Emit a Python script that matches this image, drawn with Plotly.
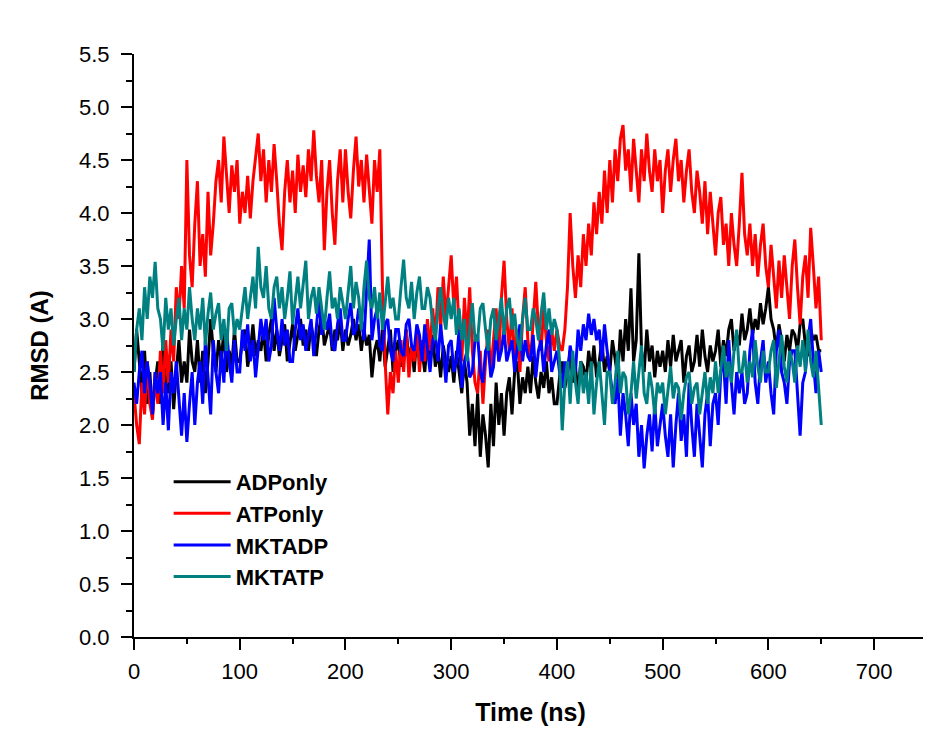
import plotly.graph_objects as go

# time axis, one sample every 2.5 ns from 0 to 650 ns
time_ns = [i * 2.5 for i in range(261)]

# RMSD values (A), 20 samples per 50 ns row
adp_only = [
    2.5, 2.9, 2.6, 2.3, 2.7, 2.2, 2.5, 2.1, 2.4, 2.6, 2.2, 2.8, 2.4, 2.3, 2.6, 2.15, 2.5, 2.8, 2.4, 2.6,
    2.4, 2.9, 2.6, 2.5, 2.8, 2.4, 2.7, 2.3, 2.6, 3.0, 2.7, 2.5, 2.8, 2.6, 2.9, 2.5, 2.7, 2.55, 2.9, 2.6,
    2.6, 2.8, 2.9, 2.55, 2.7, 2.95, 2.65, 2.8, 2.7, 2.9, 2.6, 2.85, 3.0, 2.7, 2.9, 2.65, 2.8, 2.95, 2.6, 2.8,
    2.95, 2.7, 2.85, 3.0, 2.75, 2.9, 2.7, 2.95, 2.8, 2.65, 2.9, 3.05, 2.75, 2.85, 2.95, 2.7, 2.9, 2.8, 3.0, 2.7,
    2.9, 2.75, 2.85, 3.0, 2.8, 2.95, 2.7, 2.9, 2.75, 2.85, 2.45, 2.7, 2.8, 2.6, 2.9, 2.55, 2.75, 2.9, 2.5, 2.7,
    2.8, 2.55, 2.7, 2.9, 2.6, 2.75, 2.5, 2.85, 2.65, 2.7, 2.5, 2.8, 2.6, 2.85, 2.55, 2.7, 2.45, 2.75, 2.6, 2.5,
    2.65, 2.4, 2.7, 2.5, 2.3, 2.6, 2.4, 1.9, 2.2, 1.8, 2.3, 1.7, 2.1, 1.9, 1.6, 2.2, 1.8, 2.4, 2.0, 2.3,
    1.9, 2.3, 2.45, 2.1, 2.5, 2.6, 2.2, 2.45, 2.3, 2.55, 2.3, 2.65, 2.4, 2.25, 2.5, 2.35, 2.6, 2.3, 2.45, 2.2,
    2.2, 2.45, 2.6, 2.35, 2.5, 2.7, 2.4, 2.55, 2.3, 2.6, 2.55, 2.4, 2.7, 2.5, 2.75, 2.45, 2.6, 2.8, 2.5, 2.65,
    2.5, 2.8, 2.6, 2.45, 2.9, 2.6, 3.0, 2.7, 3.29, 2.6, 2.8, 3.62, 2.7, 2.5, 2.9, 2.6, 2.75, 2.45, 2.7, 2.55,
    2.7, 2.5, 2.8, 2.55, 2.85, 2.6, 2.7, 2.8, 2.4, 2.65, 2.75, 2.5, 2.6, 2.85, 2.55, 2.9, 2.65, 2.5, 2.75, 2.6,
    2.7, 2.9, 2.55, 2.8, 2.65, 2.9, 3.0, 2.7, 2.85, 2.75, 3.05, 2.8, 2.9, 3.1, 2.85, 3.0, 2.9, 3.15, 2.95, 3.1,
    3.3, 3.0, 2.9, 2.7, 2.95, 2.8, 2.6, 2.85, 2.7, 2.9, 2.85, 2.7, 2.95, 3.0, 2.75, 2.65, 2.9, 2.8, 2.85, 2.7,
    2.7,
]

atp_only = [
    2.3, 2.0, 1.82, 2.4, 2.1, 2.6, 2.2, 2.05, 2.5, 2.2, 2.7, 2.3, 2.8, 2.4, 2.9, 2.6, 3.3, 3.0, 3.5, 3.1,
    4.5, 3.6, 3.3, 3.9, 4.3, 3.5, 3.8, 3.4, 4.2, 3.6, 3.9, 4.3, 4.5, 4.1, 4.72, 4.3, 4.0, 4.45, 4.2, 4.5,
    3.9, 4.2, 4.0, 4.35, 3.95, 4.3, 4.5, 4.75, 4.3, 4.6, 4.1, 4.5, 4.2, 4.65, 4.3, 3.9, 3.65, 4.2, 4.5, 4.1,
    4.4, 4.0, 4.55, 4.2, 4.45, 4.15, 4.6, 4.3, 4.78, 4.35, 4.1, 4.5, 3.65, 4.2, 4.5, 4.0, 3.7, 4.3, 4.6, 4.1,
    4.6, 4.2, 3.95, 4.4, 4.72, 4.25, 4.5, 4.1, 4.55, 4.2, 3.9, 4.5, 4.2, 4.6, 3.3, 2.6, 2.1, 2.5, 2.3, 2.7,
    2.4, 2.8, 2.5, 2.9, 2.45, 2.75, 2.6, 2.9, 2.5, 2.8, 2.6, 3.0, 2.7, 3.1, 2.8, 3.3, 2.9, 3.4, 3.0, 3.3,
    3.6, 3.1, 3.4, 2.9, 2.6, 3.2, 2.8, 3.3, 2.7, 2.4, 2.3, 2.7, 2.2, 2.6, 2.9, 2.5, 2.8, 3.1, 2.6, 3.2,
    3.55, 3.0, 2.7, 3.1, 2.6, 2.9, 2.5, 3.0, 3.3, 2.8, 2.6, 3.0, 3.35, 2.9, 2.7, 3.1, 2.8, 2.6, 2.9, 2.7,
    2.9, 2.75, 2.7, 2.9, 3.3, 4.0, 3.5, 3.2, 3.6, 3.3, 3.8, 3.5, 3.9, 3.6, 4.1, 3.8, 4.2, 3.9, 4.4, 4.0,
    4.5, 4.1, 4.6, 4.3, 4.7, 4.83, 4.4, 4.6, 4.2, 4.7, 4.4, 4.1, 4.6, 4.3, 4.75, 4.4, 4.2, 4.6, 4.3, 4.5,
    4.0, 4.4, 4.6, 4.2, 4.5, 4.7, 4.3, 4.5, 4.1, 4.4, 4.6, 4.2, 4.0, 4.4, 4.2, 3.9, 4.3, 3.8, 4.2, 3.9,
    3.6, 4.0, 4.15, 3.7, 3.9, 3.5, 4.0, 3.7, 3.5, 3.9, 4.38, 3.8, 3.6, 3.9, 3.5, 3.8, 3.4, 3.7, 3.9, 3.5,
    3.3, 3.7, 3.4, 3.1, 3.55, 3.2, 3.6, 3.3, 3.0, 3.5, 3.75, 3.3, 2.95, 3.4, 3.6, 3.2, 3.86, 3.5, 3.1, 3.4,
    2.8,
]

mkt_adp = [
    2.4, 2.2, 2.5, 2.7, 2.3, 2.6, 2.4, 2.1, 2.5, 2.3, 2.5, 2.0, 2.4, 1.95, 2.5, 2.3, 2.6, 2.2, 1.9, 2.3,
    1.84, 2.2, 2.5, 2.0, 2.4, 2.6, 2.2, 2.8, 2.4, 2.1, 2.8, 2.5, 2.3, 2.7, 2.4, 2.9, 2.6, 2.4, 2.8, 2.5,
    2.5, 2.9, 2.7, 2.95, 2.6, 2.8, 2.45, 2.7, 3.0, 2.8, 3.0, 2.6, 2.75, 3.2, 2.9, 2.7, 3.0, 2.75, 2.9, 2.6,
    2.6, 2.9, 3.1, 2.8, 2.95, 2.7, 2.85, 3.0, 2.65, 2.9, 3.2, 2.85, 3.0, 2.9, 3.05, 2.75, 2.7, 2.95, 3.1, 2.8,
    2.8, 3.0, 3.15, 2.85, 2.9, 3.1, 3.0, 2.8, 3.3, 3.75, 2.8, 3.0, 3.1, 2.75, 2.7, 2.95, 3.0, 2.7, 2.6, 2.9,
    2.9, 2.7, 2.65, 2.95, 3.0, 2.75, 2.7, 2.95, 2.85, 2.6, 2.95, 2.7, 2.5, 2.8, 2.85, 2.6, 2.95, 2.7, 2.4, 2.75,
    2.8, 2.5, 2.6, 2.9, 2.35, 2.6, 2.7, 2.45, 2.5, 2.8, 2.85, 2.5, 2.4, 2.7, 2.75, 2.45, 2.55, 2.9, 2.6, 2.7,
    2.9, 2.6, 2.7, 2.8, 2.5, 2.75, 2.95, 2.6, 2.8, 2.65, 2.6, 2.85, 2.45, 2.7, 2.8, 2.5, 2.75, 2.9, 2.5, 2.6,
    2.7, 2.5, 2.35, 2.6, 2.45, 2.75, 2.6, 2.5, 2.9, 2.7, 2.95, 2.8, 3.05, 2.85, 3.0, 2.8, 2.9, 2.6, 2.95, 2.7,
    2.5, 2.3, 2.2, 2.45, 1.9, 2.3, 2.1, 1.8, 2.3, 2.0, 2.2, 1.7, 2.0, 1.59, 1.9, 2.1, 1.75, 2.2, 1.8, 2.0,
    2.2, 1.9, 1.7, 2.1, 1.6, 2.0, 2.3, 1.85, 2.1, 1.7, 2.4, 2.0, 1.7, 2.2, 1.9, 1.6, 2.1, 2.3, 1.8, 2.2,
    2.3, 2.0, 2.5, 2.6, 2.2, 2.8, 2.4, 2.1, 2.5, 2.3, 2.5, 2.2, 2.3, 2.7, 2.9, 2.4, 2.2, 2.6, 2.8, 2.4,
    2.6, 2.3, 2.1, 2.7, 2.9, 2.5, 2.4, 2.2, 2.6, 2.7, 2.7, 2.3, 1.9, 2.4, 2.5, 2.8, 3.0, 2.6, 2.3, 2.7,
    2.5,
]

mkt_atp = [
    2.5, 2.9, 3.1, 2.8, 3.3, 3.0, 3.4, 3.2, 3.54, 3.1, 3.0, 2.7, 3.2, 2.9, 3.1, 2.75, 3.0, 3.2, 2.8, 3.1,
    2.9, 3.3, 3.0, 2.8, 3.1, 2.9, 3.2, 2.75, 3.05, 3.25, 2.9, 3.05, 3.15, 2.8, 3.0, 2.7, 3.1, 3.15, 2.85, 3.0,
    2.9, 3.1, 3.3, 3.0, 3.2, 3.4, 3.1, 3.68, 3.3, 3.2, 3.5, 3.1, 3.0, 3.3, 3.4, 3.1, 3.3, 3.0, 3.2, 3.45,
    2.95, 3.2, 3.4, 3.1, 3.3, 3.55, 3.0, 3.2, 3.3, 3.05, 3.3, 3.1, 2.9, 3.2, 3.45, 3.1, 3.2, 3.0, 3.3, 3.15,
    3.0, 3.25, 3.5, 3.1, 3.35, 3.2, 2.9, 3.3, 3.55, 3.2, 3.1, 3.3, 3.0, 3.25, 2.9, 3.15, 3.4, 3.1, 3.2, 3.0,
    3.0, 3.3, 3.56, 3.2, 3.1, 3.35, 3.0, 3.25, 3.4, 3.1, 3.1, 3.3, 3.2, 2.95, 2.8, 3.1, 3.3, 3.05, 2.9, 3.2,
    3.0, 3.2, 2.85, 3.1, 2.8, 3.0, 2.6, 2.9, 3.15, 2.8, 2.8, 3.1, 3.15, 2.9, 2.7, 3.0, 3.1, 2.8, 3.0, 3.2,
    2.85, 3.1, 3.2, 2.9, 3.05, 2.8, 2.7, 3.0, 3.2, 2.9, 2.9, 3.1, 3.0, 2.8, 3.05, 3.25, 2.9, 3.1, 2.85, 3.0,
    2.9, 2.6, 1.95, 2.4, 2.6, 2.2, 2.7, 2.4, 2.2, 2.6, 2.3, 2.5, 2.2, 2.6, 2.1, 2.4, 2.6, 2.3, 2.0, 2.5,
    2.5, 2.2, 2.4, 2.7, 2.3, 2.5, 2.45, 2.1, 2.3, 2.6, 2.25, 2.5, 2.75, 2.3, 2.2, 2.5, 2.35, 2.1, 2.4, 2.3,
    2.4, 2.1, 2.3, 2.55, 2.25, 2.4, 2.35, 2.05, 2.3, 2.45, 2.5, 2.2, 2.35, 2.4, 2.1, 2.3, 2.5, 2.2, 2.45, 2.3,
    2.6, 2.3, 2.5, 2.75, 2.45, 2.6, 2.4, 2.7, 2.9, 2.5, 2.5, 2.7, 2.4, 2.6, 2.45, 2.8, 2.55, 2.4, 2.7, 2.5,
    2.5, 2.7, 2.8, 2.35, 2.6, 2.85, 2.55, 2.4, 2.7, 2.6, 2.4, 2.75, 2.55, 2.8, 2.5, 2.9, 2.6, 2.45, 2.7, 2.3,
    2.0,
]

series = [
    ('ADPonly', adp_only, '#000000'),
    ('ATPonly', atp_only, '#ff0000'),
    ('MKTADP', mkt_adp, '#0000ff'),
    ('MKTATP', mkt_atp, '#008080'),
]

FONT = 'Arial, Liberation Sans, sans-serif'

fig = go.Figure()
for name, vals, color in series:
    fig.add_trace(go.Scatter(
        x=time_ns, y=vals, mode='lines', name=name,
        line=dict(color=color, width=3),
    ))

axis_style = dict(
    showline=True, linecolor='black', linewidth=2,
    showgrid=False, zeroline=False, automargin=False,
    ticks='outside', ticklen=11, tickwidth=2, tickcolor='black',
    tickfont=dict(family=FONT, size=22, color='black'),
)

fig.update_xaxes(
    range=[0, 750], dtick=100, tick0=0, ticklabelstandoff=3,
    minor=dict(dtick=50, ticks='outside', ticklen=5, tickwidth=2, tickcolor='black'),
    title=dict(text='<b>Time (ns)</b>', font=dict(family=FONT, size=25, color='black'), standoff=20),
    **axis_style,
)
fig.update_yaxes(
    range=[0, 5.5], dtick=0.5, tick0=0, tickformat='.1f', ticklabelstandoff=7,
    minor=dict(dtick=0.25, ticks='outside', ticklen=6, tickwidth=2, tickcolor='black'),
    title=dict(text='<b>RMSD (A)</b>', font=dict(family=FONT, size=24, color='black'), standoff=24),
    **axis_style,
)

fig.update_layout(
    width=931, height=730,
    margin=dict(l=126, r=12, t=46, b=101),
    paper_bgcolor='white', plot_bgcolor='white',
    font=dict(family=FONT, color='black'),
    showlegend=True,
    legend=dict(
        x=0.0437, y=0.302, xanchor='left', yanchor='top',
        bgcolor='rgba(0,0,0,0)', itemwidth=57,
        font=dict(family=FONT, size=22, color='black', weight='bold'),
        tracegroupgap=0,
    ),
)

fig.write_html("out.html")
